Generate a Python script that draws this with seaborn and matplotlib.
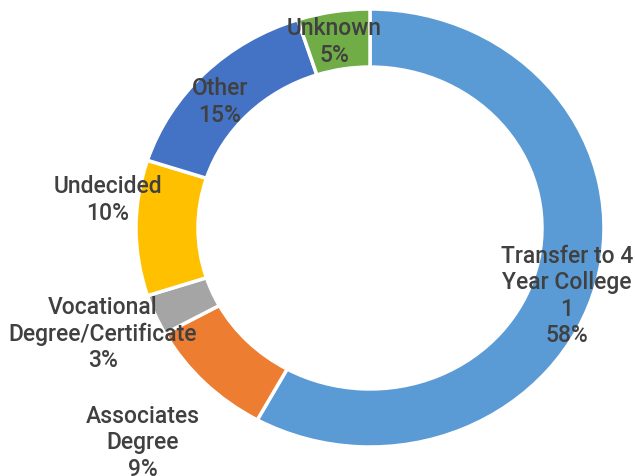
import matplotlib
matplotlib.use("Agg")
import matplotlib.pyplot as plt
import seaborn as sns
from matplotlib import font_manager

sns.set_theme(style="white")

names = ["Liberation Sans Narrow", "Roboto", "DejaVu Sans"]
avail = {f.name for f in font_manager.fontManager.ttflist}
fam = [n for n in names if n in avail]
plt.rcParams['font.family'] = fam

# Data
categories = ["Transfer to 4\nYear College\n1", "Associates\nDegree",
              "Vocational\nDegree/Certificate", "Undecided", "Other", "Unknown"]
percents = [58, 9, 3, 10, 15, 5]
colors = ["#5B9BD5", "#ED7D31", "#A5A5A5", "#FFC000", "#4472C4", "#70AD47"]

W, H = 635, 476
fig = plt.figure(figsize=(W / 100, H / 100), dpi=100)
cx, cy, rx, ry = 370, 228, 234, 219
ax = fig.add_axes([(cx - rx) / W, (H - cy - ry) / H, 2 * rx / W, 2 * ry / H])
ax.pie(percents, colors=colors, startangle=90, counterclock=False,
       radius=1.0, wedgeprops=dict(width=0.265, edgecolor="white", linewidth=2.5))
ax.set_aspect("auto")
ax.set_xlim(-1, 1)
ax.set_ylim(-1, 1)
ax.axis("off")

# label block centers in pixels
label_pos = [(567, 296), (143, 443), (103, 334), (108, 200), (220, 102), (334, 42)]
for cat, p, (px, py) in zip(categories, percents, label_pos):
    fig.text(px / W, 1 - py / H, f"{cat}\n{p}%", ha="center", va="center",
             fontsize=16.5, fontweight="medium", color="#404040", linespacing=1.18)

fig.savefig("out.png", dpi=100)
